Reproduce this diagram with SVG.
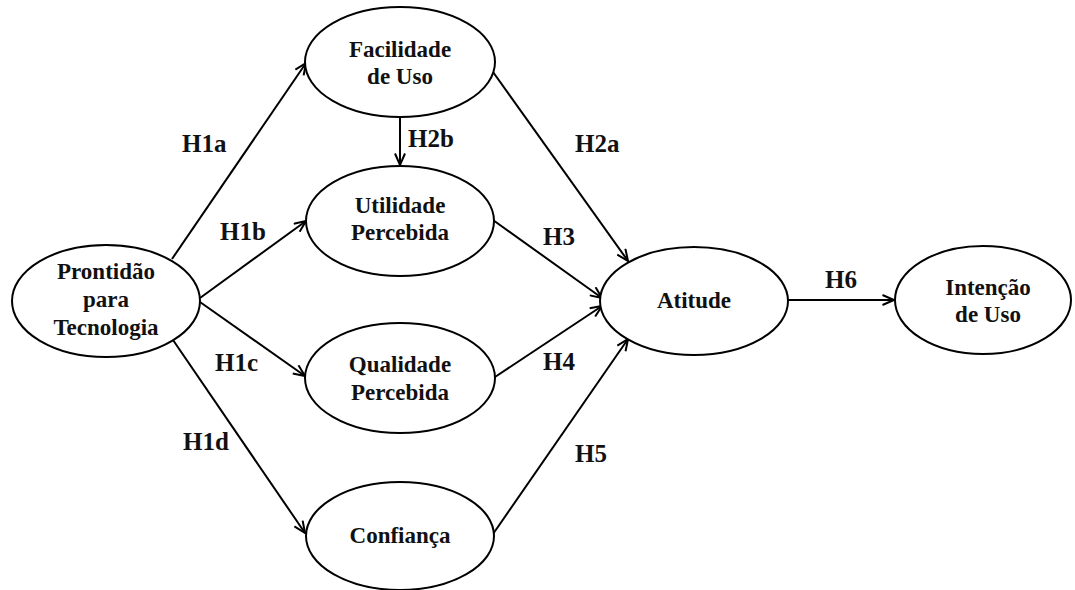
<svg xmlns="http://www.w3.org/2000/svg" width="1075" height="590" viewBox="0 0 1075 590">
<style>
.node ellipse{fill:#fff;stroke:#000;stroke-width:2}
.node text{font-family:"Liberation Serif","Times New Roman",serif;font-weight:bold;font-size:23px;text-anchor:middle;fill:#111}
.lbl{font-family:"Liberation Serif","Times New Roman",serif;font-weight:bold;font-size:25px;fill:#111}
#connectors line{stroke:#000;stroke-width:2;marker-end:url(#arr)}
</style>
<defs>
<marker id="arr" markerUnits="userSpaceOnUse" markerWidth="14" markerHeight="12" viewBox="0 0 14 12" refX="12.5" refY="6" orient="auto">
<path d="M1,1 L12.5,6 L1,11" fill="none" stroke="#000" stroke-width="2"/>
</marker>
</defs>
<rect width="1075" height="590" fill="#fff"/>
<g id="connectors">
<line x1="172" y1="259" x2="306" y2="63"/>
<line x1="200" y1="298" x2="306" y2="221"/>
<line x1="200" y1="302" x2="305" y2="376"/>
<line x1="173" y1="340" x2="305" y2="533"/>
<line x1="400" y1="117" x2="400" y2="165"/>
<line x1="493" y1="72" x2="628" y2="261"/>
<line x1="493" y1="220" x2="602" y2="298"/>
<line x1="495" y1="377" x2="602" y2="306"/>
<line x1="493" y1="534" x2="628" y2="339"/>
<line x1="788" y1="300" x2="894" y2="300"/>
</g>
<g id="labels">
<text class="lbl" x="182" y="152">H1a</text>
<text class="lbl" x="220" y="240">H1b</text>
<text class="lbl" x="215" y="371">H1c</text>
<text class="lbl" x="183" y="450">H1d</text>
<text class="lbl" x="408" y="147">H2b</text>
<text class="lbl" x="575" y="152">H2a</text>
<text class="lbl" x="543" y="245">H3</text>
<text class="lbl" x="543" y="370">H4</text>
<text class="lbl" x="575" y="462">H5</text>
<text class="lbl" x="825" y="288">H6</text>
</g>
<g id="prontidao" class="node">
<ellipse cx="106" cy="301" rx="94" ry="56"/>
<text x="106" y="279">Prontidão</text>
<text x="106" y="307">para</text>
<text x="106" y="335">Tecnologia</text>
</g>
<g id="facilidade" class="node">
<ellipse cx="400" cy="62" rx="95" ry="55"/>
<text x="400" y="57">Facilidade</text>
<text x="400" y="84">de Uso</text>
</g>
<g id="utilidade" class="node">
<ellipse cx="400" cy="221" rx="94" ry="55"/>
<text x="400" y="213">Utilidade</text>
<text x="400" y="240">Percebida</text>
</g>
<g id="qualidade" class="node">
<ellipse cx="400" cy="378" rx="95" ry="55"/>
<text x="400" y="372">Qualidade</text>
<text x="400" y="400">Percebida</text>
</g>
<g id="confianca" class="node">
<ellipse cx="400" cy="536" rx="94" ry="54"/>
<text x="400" y="543">Confiança</text>
</g>
<g id="atitude" class="node">
<ellipse cx="694" cy="301" rx="94" ry="54"/>
<text x="694" y="308">Atitude</text>
</g>
<g id="intencao" class="node">
<ellipse cx="983" cy="300" rx="88" ry="54"/>
<text x="988" y="295">Intenção</text>
<text x="988" y="322">de Uso</text>
</g>
</svg>
